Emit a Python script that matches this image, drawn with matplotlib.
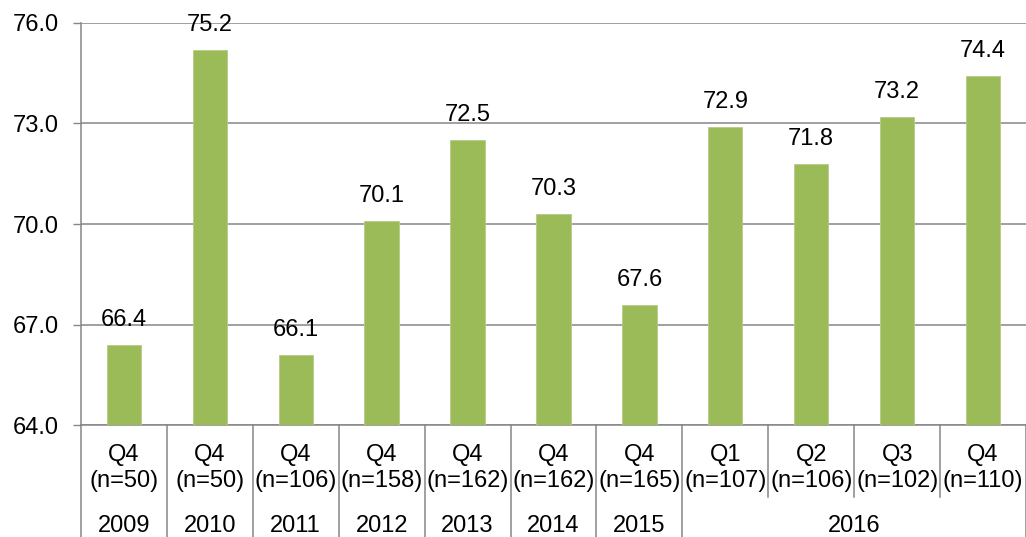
#!/usr/bin/env python3
"""Bar chart of quarterly scores, 2009-2016, with two-level category axis."""

import matplotlib.pyplot as plt
from matplotlib.ticker import FormatStrFormatter

plt.rcParams["font.family"] = ["Liberation Sans", "DejaVu Sans"]

quarters = ["Q4", "Q4", "Q4", "Q4", "Q4", "Q4", "Q4", "Q1", "Q2", "Q3", "Q4"]
sample_sizes = [50, 50, 106, 158, 162, 162, 165, 107, 106, 102, 110]
years = ["2009", "2010", "2011", "2012", "2013", "2014", "2015",
         "2016", "2016", "2016", "2016"]
scores = [66.4, 75.2, 66.1, 70.1, 72.5, 70.3, 67.6, 72.9, 71.8, 73.2, 74.4]
y_ticks = [64.0, 67.0, 70.0, 73.0, 76.0]

BAR_COLOR = "#9BBB59"
GRID_COLOR = "#868686"
FS = 17

fig = plt.figure(figsize=(10.26, 5.37), dpi=100)
ax = fig.add_axes([0.0789, 0.208, 0.9211, 0.7497])

x = list(range(len(scores)))
ax.bar(x, scores, width=0.4, color=BAR_COLOR, edgecolor="#B5CD86",
       linewidth=0.6, zorder=3)

ax.set_xlim(-0.5, len(scores) - 0.5)
ax.set_ylim(y_ticks[0], y_ticks[-1])
ax.set_yticks(y_ticks)
ax.yaxis.set_major_formatter(FormatStrFormatter("%.1f"))
ax.tick_params(axis="y", length=6, width=1.0, color=GRID_COLOR,
               labelsize=FS, pad=10)
ax.set_xticks([])
ax.grid(axis="y", color=GRID_COLOR, linewidth=1.1, zorder=0)

for side in ("top", "right"):
    ax.spines[side].set_visible(False)
for side in ("left", "bottom"):
    ax.spines[side].set_color(GRID_COLOR)
    ax.spines[side].set_linewidth(1.1)

# value labels above bars
for xi, v in zip(x, scores):
    ax.annotate(f"{v:.1f}", (xi, v), xytext=(0, 25), textcoords="offset pixels",
                ha="center", va="center", fontsize=FS, zorder=4)

# two-level category axis
tr = ax.get_xaxis_transform()
for xi, q, n in zip(x, quarters, sample_sizes):
    ax.text(xi, -0.074, q, transform=tr, ha="center", va="center", fontsize=FS)
    ax.text(xi, -0.139, f"(n={n})", transform=tr, ha="center", va="center",
            fontsize=FS)

# group years and draw dividers
groups = []
for i, yr in enumerate(years):
    if groups and groups[-1][0] == yr:
        groups[-1][2] = i
    else:
        groups.append([yr, i, i])

bottom_full = -0.29
bottom_short = -0.178
for yr, start, end in groups:
    ax.text((start + end) / 2, -0.25, yr, transform=tr, ha="center",
            va="center", fontsize=FS)
    ax.plot([start - 0.5, start - 0.5], [0, bottom_full], transform=tr,
            color=GRID_COLOR, linewidth=1.1, clip_on=False)
    for k in range(start + 1, end + 1):
        ax.plot([k - 0.5, k - 0.5], [0, bottom_short], transform=tr,
                color=GRID_COLOR, linewidth=1.1, clip_on=False)
ax.plot([len(scores) - 0.5] * 2, [0, bottom_full], transform=tr,
        color=GRID_COLOR, linewidth=1.1, clip_on=False)

fig.savefig("out.png", dpi=100)
